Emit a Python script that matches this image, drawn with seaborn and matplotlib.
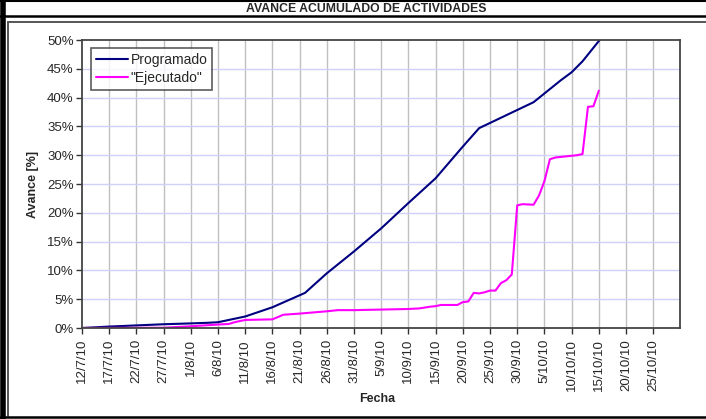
import pandas as pd
import numpy as np
import matplotlib
matplotlib.use("Agg")
import matplotlib.pyplot as plt
from matplotlib.lines import Line2D
import seaborn as sns

# Data (dates d/m/2010, values in %)
prog_dates = ["12/7", "17/7", "22/7", "27/7", "1/8", "4/8", "6/8", "11/8", "16/8",
              "22/8", "26/8", "31/8", "5/9", "10/9", "15/9", "20/9", "23/9",
              "3/10", "8/10", "10/10", "12/10", "16/10"]
prog_vals = [0.0, 0.25, 0.45, 0.65, 0.8, 0.9, 1.0, 2.0, 3.6,
             6.1, 9.5, 13.3, 17.3, 21.7, 26.0, 31.5, 34.7,
             39.2, 43.0, 44.4, 46.3, 51.0]

ejec_dates = ["12/7", "27/7", "1/8", "6/8", "8/8", "9/8", "11/8", "16/8", "18/8",
              "21/8", "26/8", "28/8", "31/8", "5/9", "10/9", "12/9", "14/9", "15/9",
              "16/9", "19/9", "20/9", "21/9", "22/9", "23/9", "24/9", "25/9", "26/9",
              "27/9", "28/9", "29/9", "30/9", "1/10", "3/10", "4/10", "5/10", "6/10",
              "7/10", "9/10", "11/10", "12/10", "13/10", "14/10", "15/10"]
ejec_vals = [0.0, 0.05, 0.3, 0.6, 0.7, 1.0, 1.4, 1.5, 2.3,
             2.5, 2.9, 3.1, 3.1, 3.2, 3.3, 3.4, 3.7, 3.8,
             4.0, 4.0, 4.5, 4.6, 6.1, 6.0, 6.2, 6.5, 6.5,
             7.8, 8.3, 9.3, 21.3, 21.5, 21.4, 23.0, 25.5, 29.3,
             29.6, 29.8, 30.0, 30.2, 38.4, 38.5, 41.2]

series_names = ["Programado", '"Ejecutado"']
series_colors = ["#000080", "#FF00FF"]


def to_dates(lst):
    return pd.to_datetime([f"{d}/2010" for d in lst], format="%d/%m/%Y")


df = pd.concat([
    pd.DataFrame({"Fecha": to_dates(prog_dates), "Avance": np.array(prog_vals) / 100,
                  "Serie": series_names[0]}),
    pd.DataFrame({"Fecha": to_dates(ejec_dates), "Avance": np.array(ejec_vals) / 100,
                  "Serie": series_names[1]}),
])

sns.set_style("white")
plt.rcParams["font.family"] = ["Liberation Sans", "DejaVu Sans"]

fig = plt.figure(figsize=(7.06, 4.19), dpi=100)
ax = fig.add_axes([82 / 706, 1 - 328 / 419, (680 - 82) / 706, (328 - 40) / 419])

sns.lineplot(data=df, x="Fecha", y="Avance", hue="Serie", palette=series_colors,
             linewidth=1.5, ax=ax, legend=True)

# axes limits and ticks
ax.set_xlim(pd.Timestamp("2010-07-12"), pd.Timestamp("2010-10-29 22:00"))
ax.set_ylim(0, 0.5)
tick_days = pd.date_range("2010-07-12", "2010-10-25", freq="5D")
ax.set_xticks(tick_days)
ax.set_xticklabels([f"{d.day}/{d.month}/{d.year % 100}" for d in tick_days],
                   rotation=90, fontsize=9.5)
yt = np.arange(0, 0.51, 0.05)
ax.set_yticks(yt)
ax.set_yticklabels([f"{int(round(v * 100))}%" for v in yt], fontsize=9.5)
ax.tick_params(axis="both", direction="out", length=4, width=1, color="#333333",
               bottom=True, left=True)
ax.tick_params(axis="x", pad=4)
ax.tick_params(axis="y", pad=2)

# grid: grey verticals, lavender horizontals
for d in tick_days[1:]:
    ax.axvline(d, color="#c0c0c0", linewidth=1, zorder=0)
for v in yt[1:-1]:
    ax.axhline(v, color="#d0d0f8", linewidth=1, zorder=0)

for s in ax.spines.values():
    s.set_color("#444444")
    s.set_linewidth(1.3)

ax.set_xlabel("Fecha", fontsize=9, fontweight="bold")
ax.set_ylabel("Avance [%]", fontsize=9, fontweight="bold", labelpad=6)
ax.xaxis.set_label_coords(0.5, -0.245)
ax.xaxis.label.set_position((0.5, 0))
ax.xaxis.set_label_coords((377 - 82) / 598, -(399 - 328) / 288)
ax.xaxis.label.set_va("center")

leg = ax.legend(loc="upper left", bbox_to_anchor=(0.015, 0.972), fontsize=10,
                frameon=True, fancybox=False, handlelength=2.3, borderpad=0.35,
                labelspacing=0.3, handletextpad=0.2, borderaxespad=0)
leg.get_frame().set_edgecolor("#333333")
leg.get_frame().set_linewidth(1.2)
leg.set_title(None)


# outer table-style frame
def hline(y, x0, x1, lw, c="black"):
    fig.add_artist(Line2D([x0 / 706, x1 / 706], [1 - y / 419, 1 - y / 419],
                          color=c, linewidth=lw, transform=fig.transFigure))


def vline(x, y0, y1, lw, c="black"):
    fig.add_artist(Line2D([x / 706, x / 706], [1 - y0 / 419, 1 - y1 / 419],
                          color=c, linewidth=lw, transform=fig.transFigure))


vline(2.5, 0, 419, 4)
hline(0.7, 0, 706, 1.5)
hline(16.5, 0, 706, 1.8)
hline(22.5, 8, 706, 1.4, "#555555")
vline(8, 22, 417, 1.4, "#555555")
hline(416.5, 0, 706, 1.8)

fig.text(366 / 706, 1 - 8.5 / 419, "AVANCE ACUMULADO DE ACTIVIDADES",
         ha="center", va="center", fontsize=8.8, fontweight="bold")

fig.savefig("out.png", dpi=100)
